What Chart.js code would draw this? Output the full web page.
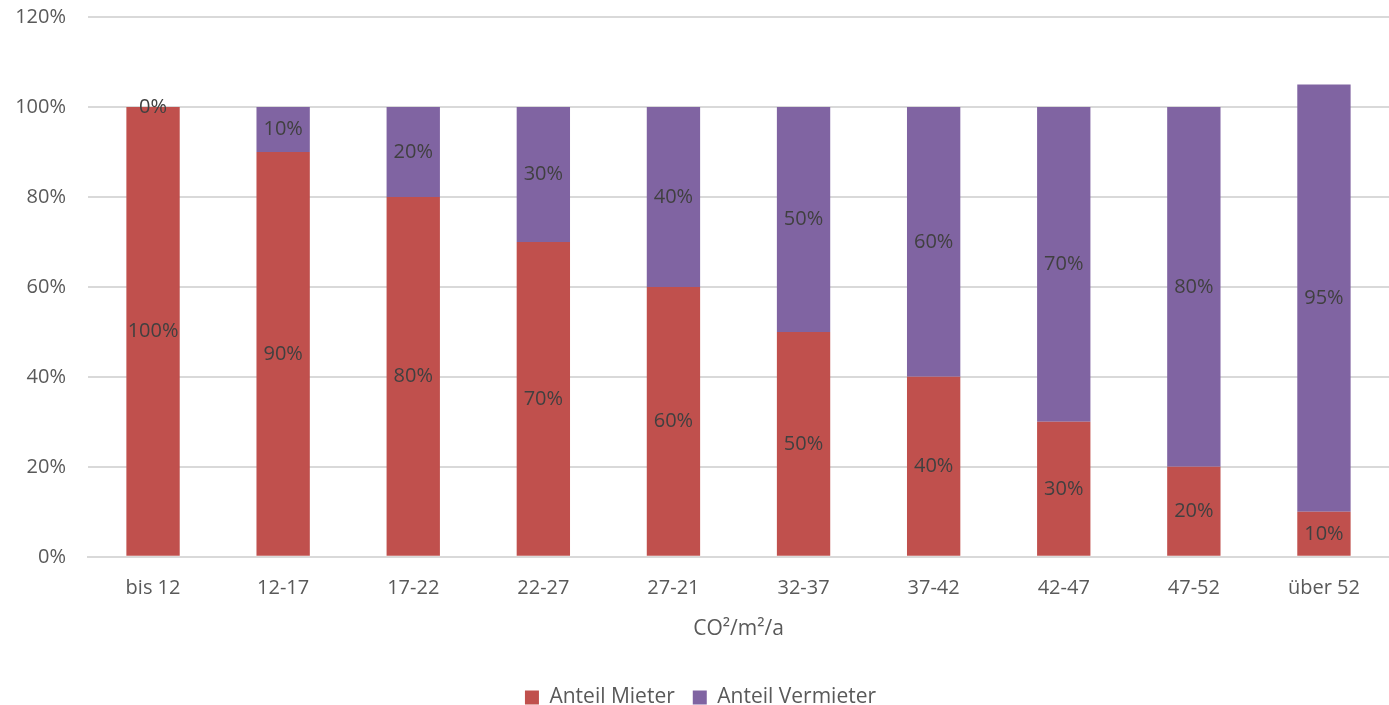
<!DOCTYPE html>
<html lang="de">
<head>
<meta charset="UTF-8">
<title>Anteil Mieter / Vermieter</title>
<script src="https://cdn.jsdelivr.net/npm/chart.js"></script>
<style>
  html, body { margin: 0; padding: 0; background: #fff; }
  #wrap { width: 1389px; height: 705px; }
</style>
</head>
<body>
<div id="wrap"><canvas id="chart" width="1389" height="705"></canvas></div>
<script>
// Kategorien (CO2 pro m2 und Jahr)
const categories = ['bis 12', '12-17', '17-22', '22-27', '27-21', '32-37', '37-42', '42-47', '47-52', 'über 52'];
// Anteile in Prozent
const anteilMieter = [100, 90, 80, 70, 60, 50, 40, 30, 20, 10];
const anteilVermieter = [0, 10, 20, 30, 40, 50, 60, 70, 80, 95];
const yTicks = [0, 20, 40, 60, 80, 100, 120];

const textColor = '#595959';
const fontFamily = "'Open Sans', 'Noto Sans', sans-serif";

// Beschriftung in der Mitte jedes Segments
const segmentLabels = {
  id: 'segmentLabels',
  afterDatasetsDraw(chart) {
    const ctx = chart.ctx;
    ctx.save();
    ctx.fillStyle = '#404040';
    ctx.font = '20px ' + fontFamily;
    ctx.textAlign = 'center';
    ctx.textBaseline = 'middle';
    chart.data.datasets.forEach((ds, i) => {
      chart.getDatasetMeta(i).data.forEach((bar, j) => {
        const y = (bar.y + bar.base) / 2;
        ctx.fillText(ds.data[j] + '%', bar.x, y);
      });
    });
    ctx.restore();
  }
};

new Chart(document.getElementById('chart').getContext('2d'), {
  type: 'bar',
  data: {
    labels: categories,
    datasets: [{
      label: 'Anteil Mieter',
      data: anteilMieter,
      backgroundColor: '#C0504D',
      borderWidth: 0,
      barPercentage: 0.41,
      categoryPercentage: 1.0
    }, {
      label: 'Anteil Vermieter',
      data: anteilVermieter,
      backgroundColor: '#8064A2',
      borderWidth: 0,
      barPercentage: 0.41,
      categoryPercentage: 1.0
    }]
  },
  options: {
    responsive: false,
    animation: false,
    layout: { padding: { top: 0, right: 0, left: 12, bottom: -13 } },
    plugins: {
      tooltip: { enabled: false },
      legend: {
        position: 'bottom',
        labels: {
          color: textColor,
          font: { size: 21, family: fontFamily },
          boxWidth: 14,
          boxHeight: 14,
          padding: 18
        }
      }
    },
    scales: {
      x: {
        stacked: true,
        grid: { display: false },
        border: { color: '#d9d9d9', width: 2 },
        ticks: { color: textColor, font: { size: 20, family: fontFamily }, padding: 11 },
        title: {
          display: true,
          text: 'CO²/m²/a',
          color: textColor,
          font: { size: 21, family: fontFamily },
          padding: { top: 6, bottom: 27 }
        }
      },
      y: {
        stacked: true,
        min: 0,
        max: 120,
        afterBuildTicks(axis) { axis.ticks = yTicks.map(v => ({ value: v })); },
        afterFit(axis) {
          axis.width = 76;
          axis.paddingTop = 17;
          axis.paddingBottom = 12;
        },
        grid: { color: '#d9d9d9', lineWidth: 2, drawTicks: false },
        border: { display: false },
        ticks: {
          color: textColor,
          font: { size: 20, family: fontFamily },
          padding: 22,
          callback: v => v + '%'
        }
      }
    }
  },
  plugins: [segmentLabels]
});
</script>
</body>
</html>
